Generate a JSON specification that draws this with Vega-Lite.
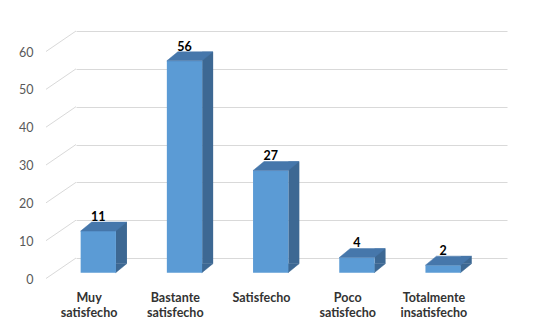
{
  "$schema": "https://vega.github.io/schema/vega-lite/v6.json",
  "autosize": {"type": "none"},
  "width": 431,
  "height": 227,
  "padding": {"left": 76, "top": 31, "right": 36, "bottom": 74},
  "background": "white",
  "config": {"font": "Lato", "view": {"stroke": null}},
  "datasets": {
    "bars": [
      {"cat": "Muy satisfecho", "v": 11},
      {"cat": "Bastante satisfecho", "v": 56},
      {"cat": "Satisfecho", "v": 27},
      {"cat": "Poco satisfecho", "v": 4},
      {"cat": "Totalmente insatisfecho", "v": 2}
    ],
    "ticks": [{"t": 0}, {"t": 10}, {"t": 20}, {"t": 30}, {"t": 40}, {"t": 50}, {"t": 60}]
  },
  "layer": [
    {
      "data": {"name": "ticks"},
      "mark": {"type": "rule", "color": "#d9d9d9", "strokeWidth": 1, "y2Offset": 20.5},
      "encoding": {
        "x": {"value": 0},
        "x2": {"value": -30},
        "y": {"field": "t", "type": "quantitative", "scale": {"domain": [0, 60], "nice": false},
          "axis": {"values": [0, 10, 20, 30, 40, 50, 60], "labelOverlap": false, "grid": true, "gridColor": "#d9d9d9", "domain": false, "ticks": false,
            "labelPadding": 43, "labelOffset": 21, "labelColor": "#595959", "labelFontSize": 12.5, "title": null}},
        "y2": {"field": "t"}
      }
    },
    {
      "data": {"name": "bars"},
      "layer": [
        {
          "mark": {"type": "bar", "size": 11, "color": "#3d6893", "xOffset": 2.35, "yOffset": 5.7, "y2Offset": 5.7},
          "encoding": {
            "x": {"field": "cat", "type": "nominal", "sort": null, "scale": {"paddingInner": 0, "paddingOuter": 0},
              "axis": {"title": null, "domain": false, "ticks": false, "labelAngle": 0, "labelOffset": -30, "labelPadding": 33,
                "labelBaseline": "top", "labelFontSize": 12.5, "labelFontWeight": "bold", "labelColor": "#333333", "labelLineHeight": 15.5,
                "labelExpr": "split(datum.label, ' ')"}},
            "y": {"field": "v", "type": "quantitative", "scale": {"domain": [0, 60], "nice": false},
              "axis": {"values": [0, 10, 20, 30, 40, 50, 60], "labelOverlap": false, "grid": true, "gridColor": "#d9d9d9", "domain": false, "ticks": false,
                "labelPadding": 43, "labelOffset": 21, "labelColor": "#595959", "labelFontSize": 12.5, "title": null}}
          }
        },
        {
          "mark": {"type": "point", "shape": "M-1,0.818L1,-0.818L-1,-0.818Z", "size": 121, "filled": true, "opacity": 1, "color": "#3d6893", "stroke": "#3d6893", "strokeWidth": 0.5, "xOffset": 2.05, "yOffset": 10.2},
          "encoding": {
            "x": {"field": "cat", "type": "nominal", "sort": null},
            "y": {"datum": 0, "type": "quantitative",
              "axis": {"values": [0, 10, 20, 30, 40, 50, 60], "labelOverlap": false, "grid": true, "gridColor": "#d9d9d9", "domain": false, "ticks": false,
                "labelPadding": 43, "labelOffset": 21, "labelColor": "#595959", "labelFontSize": 12.5, "title": null}}
          }
        },
        {
          "mark": {"type": "bar", "size": 35.3, "color": "#5b9bd5", "xOffset": -20.8, "yOffset": 14.7, "y2Offset": 14.7},
          "encoding": {
            "x": {"field": "cat", "type": "nominal", "sort": null},
            "y": {"field": "v", "type": "quantitative",
              "axis": {"values": [0, 10, 20, 30, 40, 50, 60], "labelOverlap": false, "grid": true, "gridColor": "#d9d9d9", "domain": false, "ticks": false,
                "labelPadding": 43, "labelOffset": 21, "labelColor": "#595959", "labelFontSize": 12.5, "title": null}}
          }
        },
        {
          "mark": {"type": "point", "shape": "M-1,0.196L-0.522,-0.196L1,-0.196L0.522,0.196Z", "size": 2116, "filled": true, "opacity": 1, "color": "#4677ab", "stroke": "#4677ab", "strokeWidth": 0.5, "xOffset": -15.45, "yOffset": 10.2},
          "encoding": {
            "x": {"field": "cat", "type": "nominal", "sort": null},
            "y": {"field": "v", "type": "quantitative",
              "axis": {"values": [0, 10, 20, 30, 40, 50, 60], "labelOverlap": false, "grid": true, "gridColor": "#d9d9d9", "domain": false, "ticks": false,
                "labelPadding": 43, "labelOffset": 21, "labelColor": "#595959", "labelFontSize": 12.5, "title": null}}
          }
        },
        {
          "mark": {"type": "text", "fontWeight": "bold", "fontSize": 12.5, "color": "#000000", "baseline": "middle", "xOffset": -20.8, "yOffset": 0.5},
          "encoding": {
            "x": {"field": "cat", "type": "nominal", "sort": null},
            "y": {"field": "v", "type": "quantitative",
              "axis": {"values": [0, 10, 20, 30, 40, 50, 60], "labelOverlap": false, "grid": true, "gridColor": "#d9d9d9", "domain": false, "ticks": false,
                "labelPadding": 43, "labelOffset": 21, "labelColor": "#595959", "labelFontSize": 12.5, "title": null}},
            "text": {"field": "v", "type": "quantitative"}
          }
        }
      ]
    }
  ]
}
